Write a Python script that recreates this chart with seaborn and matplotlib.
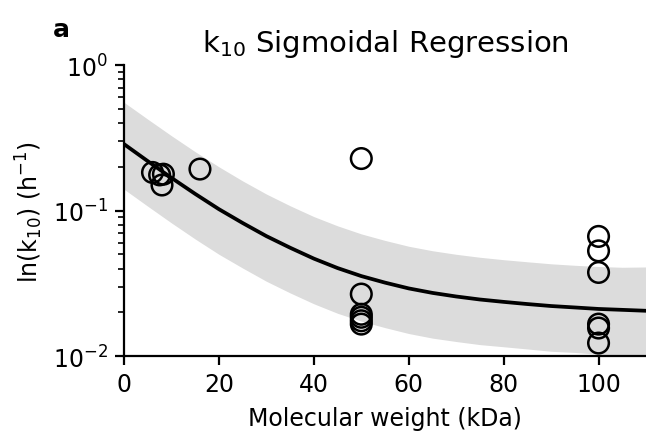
import numpy as np
import pandas as pd
import matplotlib
matplotlib.use("Agg")
import matplotlib.pyplot as plt
import seaborn as sns

# Observed elimination rate constants vs molecular weight
mw_kda = [6.0, 7.5, 8.0, 8.3, 16.0, 50.0, 50.0, 50.0, 50.0, 50.0, 50.0,
          100.0, 100.0, 100.0, 100.0, 100.0, 100.0]
k10 = [0.183, 0.176, 0.150, 0.178, 0.193, 0.228, 0.0267, 0.0194, 0.0185,
       0.0175, 0.0166, 0.0665, 0.0529, 0.0376, 0.0166, 0.0156, 0.0123]

# Fitted sigmoidal curve and its prediction band
fit_mw = [0, 5, 10, 15, 20, 25, 30, 35, 40, 45, 50, 55, 60, 65, 70, 75,
          80, 85, 90, 95, 100, 105, 110]
fit_k10 = [0.2864, 0.2188, 0.1679, 0.1303, 0.1023, 0.0822, 0.0668, 0.0556,
           0.0468, 0.0403, 0.0355, 0.0320, 0.0292, 0.0272, 0.0257, 0.0245,
           0.0236, 0.0228, 0.0221, 0.0216, 0.0211, 0.0208, 0.0205]
band_upper = [0.555, 0.425, 0.327, 0.254, 0.200, 0.160, 0.130, 0.108, 0.091,
              0.0786, 0.0692, 0.0624, 0.0569, 0.0530, 0.0501, 0.0478, 0.0460,
              0.0445, 0.0431, 0.0421, 0.0413, 0.0408, 0.0410]
band_lower = [0.1403, 0.1072, 0.0823, 0.0638, 0.0501, 0.0403, 0.0327, 0.0272,
              0.0229, 0.0197, 0.0174, 0.0157, 0.0143, 0.0133, 0.0126, 0.0120,
              0.0116, 0.0112, 0.0108, 0.0106, 0.0103, 0.0102, 0.0102]

obs = pd.DataFrame({"mw": mw_kda, "k10": k10})
fit = pd.DataFrame({"mw": fit_mw, "k10": fit_k10,
                    "upper": band_upper, "lower": band_lower})

sns.set_style("ticks")
plt.rcParams["font.family"] = ["DejaVu Sans"]
plt.rcParams["text.color"] = "black"
plt.rcParams["axes.labelcolor"] = "black"
plt.rcParams["xtick.color"] = "black"
plt.rcParams["ytick.color"] = "black"
plt.rcParams["axes.edgecolor"] = "black"

fig = plt.figure(figsize=(6.46, 4.35), dpi=100)
ax = fig.add_axes([0.192, 0.179, 0.808, 0.669])

ax.fill_between(fit["mw"], fit["lower"], fit["upper"],
                color="#dcdcdc", linewidth=0, zorder=1)
sns.lineplot(data=fit, x="mw", y="k10", color="black", linewidth=2.7,
             ax=ax, zorder=2)
sns.scatterplot(data=obs, x="mw", y="k10", marker="o", s=220,
                facecolor="none", edgecolor="black", linewidth=1.8,
                ax=ax, zorder=3)

ax.set_yscale("log")
ax.set_ylim(1e-2, 1e0)
ax.set_xlim(0, 110)
ax.set_xticks([0, 20, 40, 60, 80, 100])

sns.despine(ax=ax)
for side in ("left", "bottom"):
    ax.spines[side].set_linewidth(1.6)
ax.tick_params(axis="both", which="major", length=6.5, width=1.6,
               labelsize=17, pad=5)
ax.tick_params(axis="y", which="minor", length=4, width=1.2)

ax.set_xlabel("Molecular weight (kDa)", fontsize=17, labelpad=7)
ax.set_ylabel(r"ln(k$_{10}$) (h$^{-1}$)", fontsize=17, labelpad=6)
ax.set_title(r"k$_{10}$ Sigmoidal Regression", fontsize=21, pad=10)

fig.text(0.082, 0.932, "a", fontsize=18, fontweight="bold", ha="left",
         va="center")

fig.savefig("out.png", dpi=100)
